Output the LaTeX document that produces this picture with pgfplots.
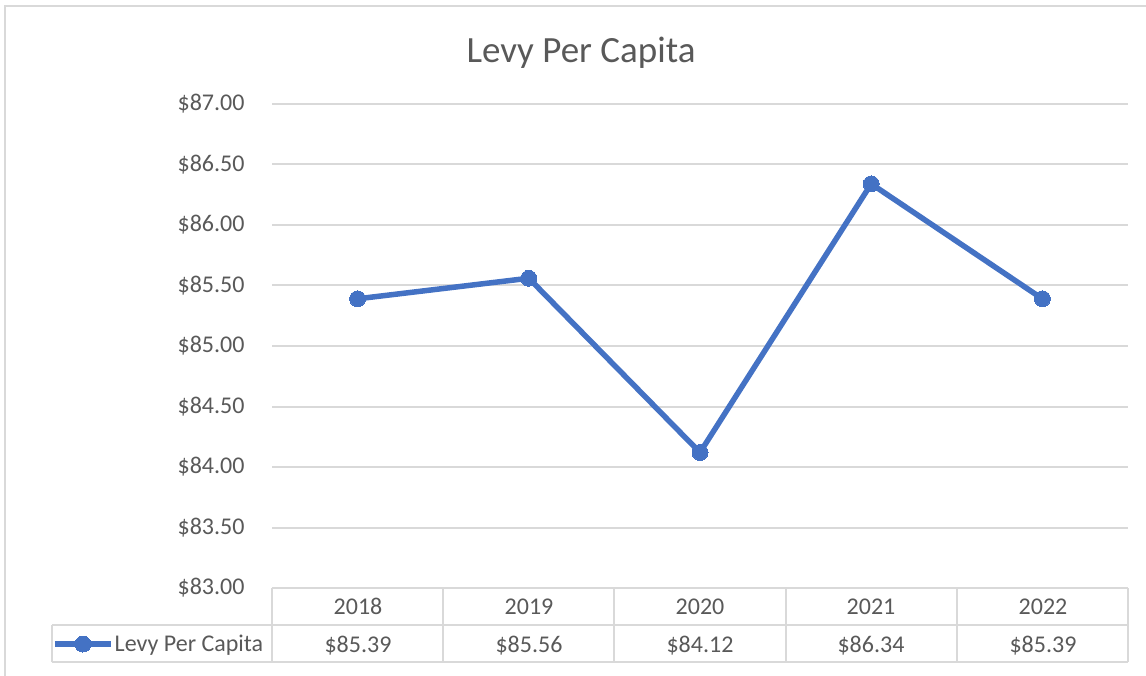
\documentclass[border=0pt]{standalone}
\usepackage{pgfplots}
\pgfplotsset{compat=1.18}
\usepackage{fontspec}
\setmainfont{Carlito}
\definecolor{excelblue}{HTML}{4472C4}
\definecolor{gridgray}{HTML}{D9D9D9}
\definecolor{textgray}{HTML}{595959}
\begin{document}
\begin{tikzpicture}[x=1pt,y=1pt]
\useasboundingbox (0,0) rectangle (1146,675);
\draw[gridgray, line width=2pt] (5,-2) -- (5,669) -- (1148,669);
\node[anchor=base, text=textgray, font=\fontsize{37}{44}\selectfont, inner sep=0pt] at (581,612) {Levy Per Capita};
\begin{axis}[at={(272pt,87pt)}, anchor=south west, scale only axis,
  width=856pt, height=484pt,
  xmin=-0.5, xmax=4.5, ymin=83, ymax=87,
  ytick={83,83.5,84,84.5,85,85.5,86,86.5,87}, xtick=\empty,
  axis line style={draw=none}, major tick length=0pt,
  ymajorgrids, grid style={gridgray, line width=2pt},
  /pgf/number format/assume math mode=true,
  yticklabel={\$\pgfmathprintnumber[fixed,fixed zerofill,precision=2]{\tick}},
  ticklabel style={font=\fontsize{24}{28}\selectfont, text=textgray},
  yticklabel style={xshift=-24pt},
  clip=false,
  legend style={draw=none, fill=none, at={(-0.2570,-0.1157)}, anchor=west,
    inner sep=0pt, font=\fontsize{24}{28}\selectfont, text=textgray,
    nodes={inner xsep=1pt, inner ysep=0pt}},
  legend image code/.code={
    \draw[mark repeat=2, mark phase=2, #1] plot coordinates {(0pt,0pt) (28pt,0pt) (56pt,0pt)};
  },
]
\addplot[excelblue, line width=5.5pt, mark=*, mark size=8pt,
  mark options={fill=excelblue, draw=excelblue, line width=0pt}]
  coordinates {(0,85.39) (1,85.56) (2,84.12) (3,86.34) (4,85.39)};
\addlegendentry{Levy Per Capita}
\end{axis}
% data table
\begin{scope}[gridgray, line width=2pt]
\draw (272,87) -- (1128,87);
\draw (52,50) -- (1128,50);
\draw (52,13) -- (1128,13);
\draw (52,13) -- (52,50);
\foreach \xx in {272,443,614,786,957,1128} { \draw (\xx,13) -- (\xx,87); }
\end{scope}
\begin{scope}[text=textgray, font=\fontsize{24}{28}\selectfont]
\node[anchor=base] at (358,60) {2018};
\node[anchor=base] at (529,60) {2019};
\node[anchor=base] at (700,60) {2020};
\node[anchor=base] at (871,60) {2021};
\node[anchor=base] at (1043,60) {2022};
\node[anchor=base] at (358,23) {\$85.39};
\node[anchor=base] at (529,23) {\$85.56};
\node[anchor=base] at (700,23) {\$84.12};
\node[anchor=base] at (871,23) {\$86.34};
\node[anchor=base] at (1043,23) {\$85.39};
\end{scope}
\end{tikzpicture}
\end{document}
